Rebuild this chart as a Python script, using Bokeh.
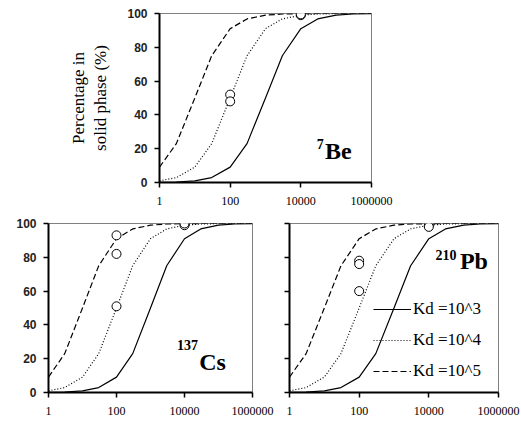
from bokeh.plotting import figure
from bokeh.models import Label, Legend, LegendItem, FixedTicker, Range1d
from bokeh.layouts import column, row
from bokeh.embed import file_html
from bokeh.resources import INLINE

# Sample positions along the x axis (log scale) and curve values
conc = [1, 3, 10, 30, 100, 300, 1000, 3000, 10000, 30000, 100000, 300000, 1000000]
kd3 = [0.1, 0.3, 1.0, 2.9, 9.1, 23, 50, 75, 91, 96.8, 99, 99.7, 99.9]
kd4 = [1.0, 2.9, 9.1, 23, 50, 75, 91, 96.8, 99, 99.7, 99.9, 100, 100]
kd5 = [9.1, 23, 50, 75, 91, 96.8, 99, 99.7, 99.9, 100, 100, 100, 100]

# Observed points
be_x = [100, 100, 10000, 10000]
be_y = [52, 48, 99, 99.5]
cs_x = [100, 100, 100, 10000, 10000]
cs_y = [93, 82, 51, 99, 100]
pb_x = [100, 100, 100, 10000, 10000]
pb_y = [78, 76, 60, 99, 98]

x_ticks = [1, 100, 10000, 1000000]
x_tick_labels = ["1", "100", "10000", "1000000"]
y_ticks = [0, 20, 40, 60, 80, 100]

legend_labels = ["Kd =10^3", "Kd =10^4", "Kd =10^5"]

SERIF = "'Liberation Serif', 'Times New Roman', serif"
SANS = "'Liberation Sans', Arial, sans-serif"


def make_panel(width, height, bl, br, bt, bb, px, py, show_ylabels=True, ylabel=None):
    p = figure(width=width, height=height, x_axis_type="log",
               x_range=Range1d(1, 1000000), y_range=Range1d(0, 100),
               output_backend="svg", toolbar_location=None,
               min_border_left=bl, min_border_right=br,
               min_border_top=bt, min_border_bottom=bb)
    p.background_fill_color = "white"
    p.border_fill_color = "white"
    p.outline_line_color = "#808080"
    p.outline_line_width = 1
    p.grid.visible = False

    p.xaxis.ticker = FixedTicker(ticks=x_ticks, minor_ticks=[])
    p.xaxis.major_label_overrides = {t: l for t, l in zip(x_ticks, x_tick_labels)}
    p.xaxis.major_label_text_font = SERIF
    p.xaxis.major_label_text_font_size = "12px"
    p.xaxis.major_label_text_color = "black"
    p.xaxis.major_label_standoff = 9

    p.yaxis.ticker = FixedTicker(ticks=y_ticks, minor_ticks=[])
    p.yaxis.major_label_text_font = SANS
    p.yaxis.major_label_text_font_size = "12px"
    p.yaxis.major_label_text_font_style = "bold"
    p.yaxis.major_label_text_color = "#222222"
    p.yaxis.major_label_standoff = 7
    if not show_ylabels:
        p.yaxis.major_label_overrides = {t: "" for t in y_ticks}

    for ax in (p.xaxis, p.yaxis):
        ax.axis_line_color = "black"
        ax.axis_line_width = 2
        ax.major_tick_line_color = "black"
        ax.major_tick_line_width = 1.5
        ax.major_tick_in = 0
        ax.major_tick_out = 5
        ax.minor_tick_line_color = None

    if ylabel:
        p.yaxis.axis_label = ylabel
        p.yaxis.axis_label_text_font = SERIF
        p.yaxis.axis_label_text_font_size = "17px"
        p.yaxis.axis_label_text_font_style = "normal"
        p.yaxis.axis_label_text_color = "black"
        p.yaxis.axis_label_standoff = 14

    r3 = p.line(conc, kd3, line_color="black", line_width=1.2)
    r4 = p.line(conc, kd4, line_color="black", line_width=1.2, line_dash="1 2")
    r5 = p.line(conc, kd5, line_color="black", line_width=1.2, line_dash="6 3")
    p.scatter(px, py, size=9, marker="circle", fill_color="white",
              line_color="black", line_width=1)
    return p, (r3, r4, r5)


def add_iso(p, sup, main, xs, ys, xm, ym):
    p.add_layout(Label(x=xs, y=ys, text=sup, text_font=SERIF, text_font_size="14px",
                       text_font_style="bold", text_color="black",
                       text_align="left", text_baseline="alphabetic"))
    p.add_layout(Label(x=xm, y=ym, text=main, text_font=SERIF, text_font_size="24px",
                       text_font_style="bold", text_color="black",
                       text_align="left", text_baseline="alphabetic"))


# Top panel (7Be)
top, _ = make_panel(401, 210, 159, 30, 13, 28, be_x, be_y,
                    ylabel="Percentage in\nsolid phase (%)")
add_iso(top, "7", "Be", 28000, 22.5, 48000, 18.5)

# Bottom-left panel (137Cs)
bl, _ = make_panel(274, 207, 48, 22, 13, 23, cs_x, cs_y)
add_iso(bl, "137", "Cs", 6000, 28, 27000, 18)

# Bottom-right panel (210Pb)
br, rends = make_panel(247, 207, 15, 23, 13, 23, pb_x, pb_y, show_ylabels=False)
add_iso(br, "210", "Pb", 15500, 81.5, 78000, 78)

legend = Legend(items=[LegendItem(label=l, renderers=[r]) for l, r in zip(legend_labels, rends)],
                location=(84, 11), orientation="vertical",
                border_line_color=None, background_fill_alpha=0,
                padding=0, margin=0, spacing=11, glyph_width=38, glyph_height=20,
                label_height=20, label_standoff=2,
                label_text_font=SERIF, label_text_font_size="17px",
                label_text_color="black")
br.add_layout(legend, "center")

layout = column(top, row(bl, br))
open("out.html", "w").write(file_html(layout, INLINE))
